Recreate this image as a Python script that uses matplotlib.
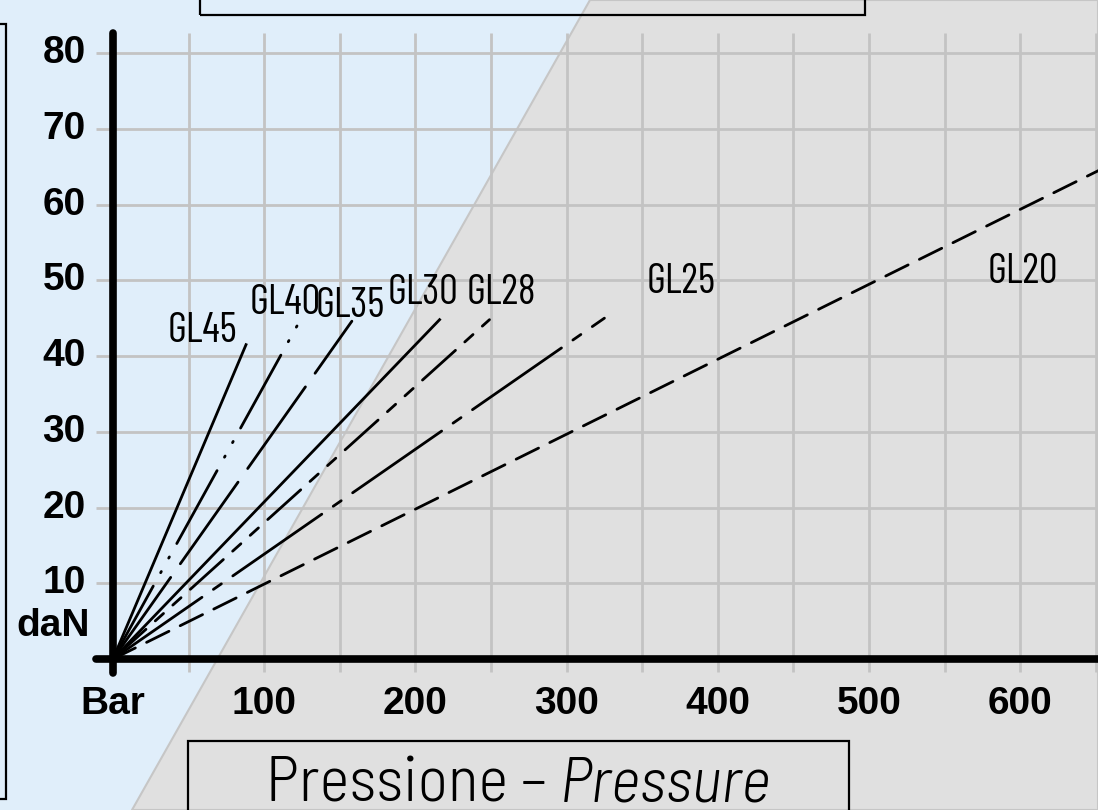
import matplotlib
matplotlib.use("Agg")
import matplotlib.pyplot as plt
from matplotlib.patches import Polygon, Rectangle

# =========================
# Data
# =========================
pressure_ticks = [100, 200, 300, 400, 500, 600]
force_ticks = [10, 20, 30, 40, 50, 60, 70, 80]

gl_names = ["GL45", "GL40", "GL35", "GL30", "GL28", "GL25", "GL20"]
end_bar = [88, 124, 158, 216, 249, 325, 660]
end_dan = [41.5, 44.8, 44.6, 44.8, 44.8, 45.0, 65.3]
label_bar = [59, 114, 157, 205, 257, 376, 602]
label_dan = [43.3, 47.0, 46.5, 48.3, 48.3, 49.7, 51.0]

# dash patterns in points (on, off, ...)
gl_dash = [
    None,
    (0, (60, 11, 1, 11, 1, 11)),
    (0, (72, 12)),
    None,
    (0, (32, 9, 8, 9, 8, 9)),
    (0, (78, 10, 7, 10)),
    (0, (18, 9)),
]

plt.rcParams["lines.scale_dashes"] = False

W, H = 1098, 810
fig = plt.figure(figsize=(W / 100, H / 100), dpi=100)
ax = fig.add_axes([0, 0, 1, 1])
ax.set_xlim(-74.7, 651.4)
ax.set_ylim(-19.93, 87.0)
ax.axis("off")

# background split
fig.patches.append(Polygon([[0, 0], [132 / W, 0], [590 / W, 1], [0, 1]], closed=True,
                           transform=fig.transFigure, facecolor="#e0eefa", edgecolor="none", zorder=-2))
fig.patches.append(Polygon([[132 / W, 0], [1, 0], [1, 1], [590 / W, 1]], closed=True,
                           transform=fig.transFigure, facecolor="#e0e0e0", edgecolor="#c6c6c6",
                           linewidth=1.5, zorder=-2))

# frames
for (x0, y0, x1, y1) in [(200, -10, 865, 15), (-10, 24, 6, 799), (188, 741, 849, 830)]:
    fig.patches.append(Rectangle((x0 / W, 1 - y1 / H), (x1 - x0) / W, (y1 - y0) / H,
                                 transform=fig.transFigure, facecolor="none",
                                 edgecolor="black", linewidth=1.6, zorder=1))

# grid
grid_x = list(range(50, 651, 50))
ax.vlines(grid_x, -1.7, 82.6, color="#c3c3c3", linewidth=2, zorder=1)
ax.hlines(force_ticks, -11, 652, color="#c3c3c3", linewidth=2, zorder=1)

# axes
ax.plot([0, 0], [-1.9, 82.6], color="black", linewidth=5.5, solid_capstyle="round", zorder=3)
ax.plot([-11, 652], [0, 0], color="black", linewidth=5.5, solid_capstyle="round", zorder=3)

tick_font = dict(family="Liberation Sans", weight="bold", fontsize=28)
for v in force_ticks:
    ax.text(-18, v, str(v), ha="right", va="center", **tick_font)
ax.text(-15, 4.4, "daN", ha="right", va="center", **tick_font)
for v in pressure_ticks:
    ax.text(v, -6.0, str(v), ha="center", va="center", **tick_font)
ax.text(0, -6.0, "Bar", ha="center", va="center", **tick_font)

# curves
lab_font = dict(family="Barlow Condensed", weight=400, fontsize=30)
for name, xb, yb, ls, lx, ly in zip(gl_names, end_bar, end_dan, gl_dash, label_bar, label_dan):
    ax.plot([0, xb], [0, yb], color="black", linewidth=2.0,
            linestyle=ls if ls else "-", dash_capstyle="round", zorder=2)
    ax.text(lx, ly, name, ha="center", va="center", **lab_font)

# bottom title: upright + italic part, centred in the frame
title_font = dict(fontsize=46, family="Barlow Semi Condensed", weight=300)
t1 = ax.text(0, 0, "Pressione – ", ha="left", va="baseline", **title_font)
t2 = ax.text(0, 0, "Pressure", style="italic", ha="left", va="baseline", **title_font)
fig.canvas.draw()
r = fig.canvas.get_renderer()
w1 = t1.get_window_extent(r).width
w2 = t2.get_window_extent(r).width
cx = (188 + 849) / 2
base_y = H - 801
t1.set_transform(None)
t2.set_transform(None)
t1.set_position((cx - (w1 + w2) / 2, base_y))
t2.set_position((cx - (w1 + w2) / 2 + w1, base_y))

fig.savefig("out.png", dpi=100)
